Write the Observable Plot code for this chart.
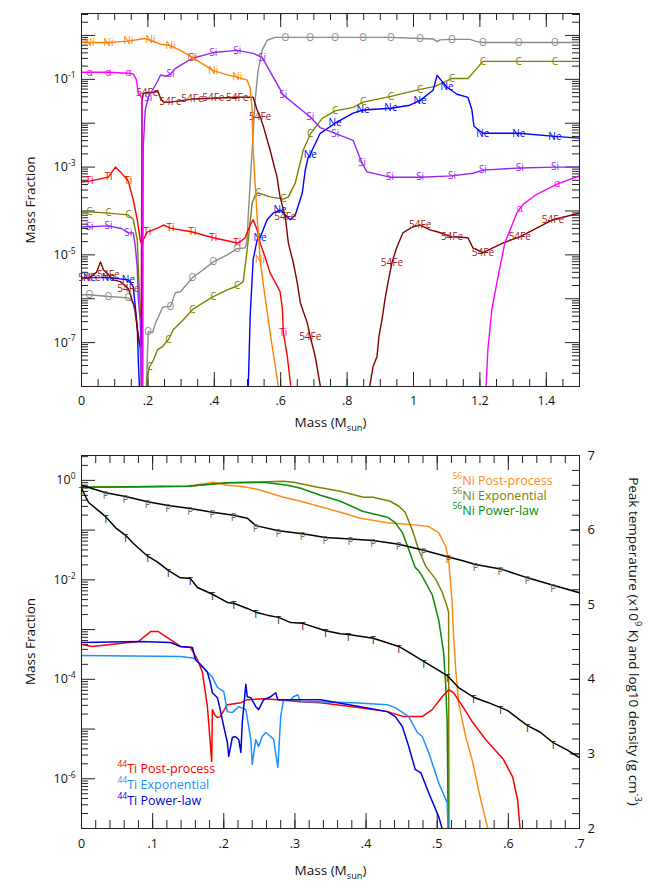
<!DOCTYPE html>
<html><head><meta charset="utf-8">
<script src="https://cdn.jsdelivr.net/npm/d3@7"></script>
<script src="https://cdn.jsdelivr.net/npm/@observablehq/plot@0.6"></script>
<style>
body{margin:0;background:#fff;}
#chart{width:664px;}
svg{display:block;}
</style></head><body><div id="chart"></div>
<script>
// ===== TOP PANEL: mass fraction profiles, [mass (Msun), log10 mass fraction, label?] =====
const niLog = [[0,-0.16],[0.024,-0.16,1],[0.081,-0.16,1],[0.141,-0.13,1],[0.19,-0.07],[0.208,-0.11,1],[0.238,-0.2],[0.268,-0.23,1],[0.298,-0.34],[0.334,-0.50,1],[0.367,-0.66],[0.397,-0.80,1],[0.439,-0.90],[0.469,-0.95,1],[0.499,-1.02],[0.508,-1.2],[0.514,-1.7],[0.517,-2.6],[0.529,-4.14],[0.538,-5.11,1],[0.547,-5.64],[0.568,-6.77],[0.595,-8.1]];
const alphaLeftLog = [[0,-0.84],[0.024,-0.84,1],[0.081,-0.84,1],[0.141,-0.86,1],[0.156,-0.88],[0.165,-1.0],[0.171,-1.32],[0.177,-1.36],[0.182,-1.45],[0.184,-8.1]];
const alphaRightLog = [[1.218,-8.1],[1.224,-7.16],[1.236,-6.25],[1.251,-5.64],[1.275,-4.73],[1.311,-4.05],[1.320,-3.95,1],[1.33,-3.85],[1.371,-3.62],[1.432,-3.39,1],[1.5,-3.2]];
const siLog = [[0,-4.36],[0.024,-4.36,1],[0.081,-4.34,1],[0.12,-4.40],[0.141,-4.50,1],[0.156,-4.50],[0.162,-4.8],[0.168,-5.3],[0.171,-6.0],[0.177,-6.5],[0.181,-8.1],[0.184,-8.1],[0.186,-2.55],[0.192,-1.70],[0.201,-1.41,1],[0.229,-1.05],[0.238,-0.90],[0.253,-0.93],[0.268,-0.88,1],[0.283,-0.75],[0.298,-0.68],[0.334,-0.52,1],[0.397,-0.39,1],[0.469,-0.34,1],[0.517,-0.41],[0.544,-0.50,1],[0.608,-1.36,1],[0.689,-1.86,1],[0.719,-2.10],[0.764,-2.23,1],[0.818,-2.39],[0.845,-2.91,1],[0.860,-3.11],[0.929,-3.23,1],[1.020,-3.23,1],[1.116,-3.20,1],[1.179,-3.14],[1.209,-3.07,1],[1.320,-3.02,1],[1.426,-3.00,1],[1.5,-3.00]];
const cLog = [[0,-4.02],[0.024,-4.02,1],[0.081,-4.05,1],[0.141,-4.09,1],[0.156,-4.20],[0.168,-4.66],[0.171,-5.27],[0.177,-6.25],[0.183,-8.1],[0.195,-8.1],[0.198,-7.77],[0.205,-7.55,1],[0.217,-7.39],[0.229,-7.16],[0.244,-7.09],[0.262,-6.93,1],[0.277,-6.70],[0.304,-6.50],[0.334,-6.25,1],[0.367,-6.09],[0.397,-5.95,1],[0.439,-5.80],[0.469,-5.71,1],[0.487,-5.61],[0.499,-4.89],[0.514,-3.82],[0.523,-3.64],[0.532,-3.59,1],[0.568,-3.68],[0.608,-3.73,1],[0.623,-3.68],[0.644,-3.36],[0.668,-2.61],[0.689,-2.25,1],[0.725,-1.89],[0.764,-1.72,1],[0.818,-1.64],[0.848,-1.52,1],[0.932,-1.39,1],[1.020,-1.23,1],[1.065,-1.16],[1.116,-0.98,1],[1.164,-0.98],[1.191,-0.75],[1.209,-0.59,1],[1.317,-0.59,1],[1.426,-0.59,1],[1.5,-0.59]];
const oLog = [[0,-5.91],[0.024,-5.91,1],[0.081,-5.95,1],[0.141,-5.98,1],[0.156,-6.09],[0.168,-6.64],[0.177,-7.23],[0.180,-8.1],[0.195,-8.1],[0.198,-7.39],[0.201,-6.75,1],[0.214,-6.77],[0.223,-6.55],[0.232,-6.41],[0.244,-6.20],[0.253,-6.18],[0.268,-6.18,1],[0.283,-5.86],[0.298,-5.84],[0.334,-5.52,1],[0.367,-5.34],[0.397,-5.16,1],[0.439,-5.00],[0.469,-4.86,1],[0.493,-4.84],[0.499,-4.66],[0.502,-4.14],[0.508,-3.36],[0.514,-2.61],[0.523,-1.48],[0.532,-0.80],[0.544,-0.34],[0.559,-0.11],[0.583,-0.045],[0.614,-0.045,1],[0.689,-0.045,1],[0.764,-0.045,1],[0.848,-0.045,1],[0.932,-0.045,1],[1.020,-0.07,1],[1.059,-0.08],[1.071,-0.14],[1.080,-0.10],[1.116,-0.09,1],[1.170,-0.09],[1.191,-0.14],[1.209,-0.16,1],[1.317,-0.16,1],[1.426,-0.16,1],[1.5,-0.16]];
const neLeftLog = [[0,-5.52],[0.024,-5.52,1],[0.081,-5.52,1],[0.141,-5.57,1],[0.156,-5.73],[0.168,-6.64],[0.171,-7.39],[0.175,-8.1]];
const neRightLog = [[0.502,-8.1],[0.508,-6.41],[0.517,-5.11],[0.529,-4.66],[0.538,-4.61,1],[0.559,-4.20],[0.577,-4.05],[0.598,-3.98,1],[0.620,-4.14],[0.629,-4.20],[0.644,-4.09],[0.665,-3.59],[0.674,-3.07],[0.683,-2.77],[0.689,-2.73,1],[0.695,-2.61],[0.719,-2.23],[0.764,-2.0,1],[0.818,-1.77],[0.848,-1.70,1],[0.932,-1.66,1],[0.989,-1.59],[1.020,-1.48,1],[1.059,-1.25],[1.071,-0.91],[1.101,-1.18,1],[1.131,-1.34],[1.164,-1.41],[1.176,-1.70],[1.182,-2.07],[1.209,-2.23,1],[1.317,-2.23,1],[1.426,-2.30,1],[1.5,-2.34]];
const tiLog = [[0,-3.34],[0.024,-3.32,1],[0.081,-3.23,1],[0.102,-3.00],[0.117,-3.11],[0.141,-3.32,1],[0.156,-3.75],[0.168,-4.20],[0.177,-4.66],[0.183,-4.80],[0.186,-4.66],[0.198,-4.48,1],[0.229,-4.39],[0.247,-4.32],[0.268,-4.39,1],[0.334,-4.48,1],[0.397,-4.61,1],[0.469,-4.73,1],[0.478,-4.70],[0.493,-4.61],[0.508,-4.32],[0.517,-4.20],[0.529,-4.43],[0.538,-4.73],[0.553,-5.05],[0.568,-5.41],[0.589,-5.70],[0.598,-5.84],[0.605,-6.22],[0.608,-6.77,1],[0.620,-7.32],[0.632,-8.1]];
const fe54Log = [[0,-5.52],[0.024,-5.52,1],[0.045,-5.40],[0.057,-5.16],[0.066,-5.34],[0.081,-5.45,1],[0.096,-5.57],[0.117,-5.61],[0.141,-5.77,1],[0.162,-6.25],[0.168,-6.70],[0.177,-7.09],[0.180,-7.09],[0.182,-1.50],[0.186,-1.32],[0.198,-1.30,1],[0.217,-1.30],[0.229,-1.25],[0.238,-1.43],[0.247,-1.52],[0.268,-1.52,1],[0.334,-1.45,1],[0.397,-1.43,1],[0.469,-1.41,1],[0.517,-1.41],[0.529,-1.70],[0.538,-1.85,1],[0.547,-2.05],[0.568,-2.61],[0.589,-3.23],[0.598,-3.68],[0.614,-4.14,1],[0.623,-4.73],[0.638,-5.18],[0.650,-5.64],[0.659,-6.09],[0.680,-6.55],[0.689,-6.86,1],[0.704,-7.32],[0.722,-8.1]];
const fe54RightLog = [[0.866,-8.1],[0.878,-7.55],[0.890,-7.32],[0.896,-6.86],[0.905,-6.48],[0.914,-6.02],[0.923,-5.64],[0.935,-5.18,1],[0.950,-4.82],[0.968,-4.50],[0.998,-4.36],[1.020,-4.32,1],[1.050,-4.43],[1.074,-4.48],[1.116,-4.59,1],[1.164,-4.61],[1.179,-4.84],[1.209,-4.95,1],[1.269,-4.73],[1.320,-4.59,1],[1.371,-4.39],[1.420,-4.20,1],[1.5,-4.05]];

// ===== BOTTOM PANEL =====
const ni56PostLog = [[0,-0.14],[0.149,-0.12],[0.186,-0.04],[0.205,-0.10],[0.224,-0.12],[0.247,-0.18],[0.284,-0.34],[0.308,-0.42],[0.336,-0.53],[0.364,-0.64],[0.392,-0.76],[0.430,-0.85],[0.465,-0.89],[0.488,-0.93],[0.502,-1.05],[0.512,-1.33],[0.516,-1.59],[0.521,-2.45],[0.523,-3.14],[0.526,-3.80],[0.530,-4.47],[0.540,-5.15],[0.550,-5.67],[0.558,-6.22],[0.568,-6.82],[0.573,-7.1]];
const ni56ExpLog = [[0,-0.14],[0.149,-0.12],[0.205,-0.05],[0.26,-0.03],[0.284,-0.02],[0.298,-0.04],[0.332,-0.14],[0.364,-0.22],[0.396,-0.34],[0.410,-0.34],[0.434,-0.42],[0.446,-0.52],[0.455,-0.64],[0.465,-1.0],[0.474,-1.40],[0.484,-1.73],[0.498,-1.99],[0.507,-2.25],[0.514,-2.54],[0.516,-2.66],[0.5165,-7.1]];
const ni56PowLog = [[0,-0.14],[0.149,-0.12],[0.205,-0.05],[0.256,-0.04],[0.290,-0.10],[0.308,-0.16],[0.336,-0.30],[0.364,-0.42],[0.395,-0.62],[0.430,-0.74],[0.441,-0.85],[0.451,-1.05],[0.460,-1.39],[0.469,-1.75],[0.474,-1.82],[0.479,-1.93],[0.493,-2.30],[0.502,-2.80],[0.509,-3.46],[0.512,-4.14],[0.514,-4.87],[0.5155,-7.1]];
const ti44PostLog = [[0,-3.30],[0.015,-3.34],[0.080,-3.24],[0.097,-3.04],[0.108,-3.04],[0.125,-3.20],[0.139,-3.34],[0.153,-3.36],[0.163,-3.60],[0.170,-3.86],[0.177,-4.55],[0.183,-5.65],[0.184,-4.61],[0.187,-4.71],[0.191,-4.77],[0.195,-4.75],[0.205,-4.51],[0.224,-4.47],[0.233,-4.41],[0.256,-4.39],[0.276,-4.41],[0.308,-4.45],[0.336,-4.47],[0.392,-4.57],[0.430,-4.65],[0.453,-4.75],[0.479,-4.75],[0.493,-4.61],[0.507,-4.35],[0.516,-4.21],[0.523,-4.27],[0.536,-4.55],[0.550,-4.87],[0.568,-5.21],[0.593,-5.61],[0.606,-5.96],[0.613,-6.42],[0.617,-7.1]];
const ti44ExpLog = [[0,-3.52],[0.140,-3.54],[0.160,-3.58],[0.171,-3.76],[0.184,-3.96],[0.191,-4.16],[0.200,-4.25],[0.205,-4.65],[0.212,-4.67],[0.221,-4.55],[0.231,-4.61],[0.238,-5.21],[0.240,-5.71],[0.245,-5.21],[0.249,-5.35],[0.254,-5.15],[0.259,-5.07],[0.266,-5.15],[0.270,-5.21],[0.276,-5.77],[0.280,-4.75],[0.284,-4.41],[0.294,-4.41],[0.298,-4.35],[0.304,-4.31],[0.308,-4.45],[0.332,-4.45],[0.382,-4.47],[0.430,-4.51],[0.441,-4.57],[0.460,-4.75],[0.472,-5.07],[0.479,-5.15],[0.488,-5.47],[0.502,-6.08],[0.514,-6.48],[0.5155,-7.1]];
const ti44PowLog = [[0,-3.26],[0.083,-3.24],[0.125,-3.26],[0.139,-3.34],[0.156,-3.36],[0.160,-3.60],[0.171,-3.76],[0.177,-3.86],[0.181,-4.06],[0.184,-4.27],[0.191,-4.37],[0.195,-4.61],[0.200,-4.95],[0.205,-5.27],[0.207,-5.55],[0.212,-5.17],[0.216,-5.15],[0.221,-5.21],[0.224,-5.47],[0.226,-4.87],[0.231,-4.10],[0.233,-4.35],[0.238,-4.37],[0.245,-4.55],[0.249,-4.61],[0.256,-4.41],[0.266,-4.35],[0.273,-4.27],[0.276,-4.41],[0.290,-4.41],[0.336,-4.41],[0.392,-4.55],[0.430,-4.65],[0.441,-4.75],[0.451,-4.95],[0.460,-5.35],[0.469,-5.81],[0.477,-5.88],[0.488,-6.28],[0.502,-6.76],[0.509,-7.1]];
// right axis: log10 density (P) and peak temperature (T), [mass, value, label?]
const densityP = [[0,6.60],[0.034,6.50,1],[0.062,6.45,1],[0.093,6.38,1],[0.122,6.33,1],[0.153,6.29,1],[0.184,6.24,1],[0.214,6.20,1],[0.233,6.16],[0.245,6.06,1],[0.277,5.99,1],[0.311,5.95,1],[0.343,5.90,1],[0.378,5.88,1],[0.410,5.86,1],[0.446,5.81,1],[0.481,5.73,1],[0.516,5.64,1],[0.536,5.59],[0.554,5.54,1],[0.589,5.48,1],[0.627,5.36,1],[0.663,5.26,1],[0.700,5.16]];
const temperatureT = [[0,6.56,1],[0.010,6.37],[0.034,6.18,1],[0.048,6.03],[0.062,5.93,1],[0.073,5.82],[0.093,5.65,1],[0.107,5.57],[0.122,5.46,1],[0.139,5.36],[0.153,5.35,1],[0.163,5.23],[0.184,5.14,1],[0.205,5.03],[0.214,5.02,1],[0.233,4.95],[0.245,4.90,1],[0.261,4.86],[0.277,4.83,1],[0.294,4.76],[0.311,4.75,1],[0.343,4.65,1],[0.364,4.61],[0.375,4.60,1],[0.410,4.55,1],[0.446,4.44,1],[0.462,4.35],[0.481,4.24,1],[0.495,4.16],[0.514,4.05,1],[0.530,3.89],[0.551,3.76,1],[0.571,3.69],[0.589,3.62,1],[0.599,3.58],[0.617,3.45],[0.627,3.38,1],[0.645,3.29],[0.663,3.15,1],[0.683,3.05],[0.700,2.95]];

// ===== tick labels & legend text =====
const topXTicks = [0, 0.2, 0.4, 0.6, 0.8, 1, 1.2, 1.4];
const topYTicks = [1e-1, 1e-3, 1e-5, 1e-7];
const botXTicks = [0, 0.1, 0.2, 0.3, 0.4, 0.5, 0.6, 0.7];
const botYTicks = [1, 1e-2, 1e-4, 1e-6];
const rightTicks = [2, 3, 4, 5, 6, 7];
const niLegend = ["^{56}Ni Post-process", "^{56}Ni Exponential", "^{56}Ni Power-law"];
const niLegendColors = ["#ff8c1a", "#808000", "#0a8a0a"];
const tiLegend = ["^{44}Ti Post-process", "^{44}Ti Exponential", "^{44}Ti Power-law"];
const tiLegendColors = ["#ff0000", "#1e8fff", "#0000dd"];

const FONT = "'Open Sans', 'DejaVu Sans', sans-serif";
const FW = 498, FH = 373;
const toObj = arr => arr.map(([x, e, l]) => ({x, y: 10 ** e, l: !!l}));
const rightToLeft = v => 10 ** (-7 + (v - 2) * 1.5);   // dual axis: 2..7 -> 1e-7..10^0.5
const toObjR = arr => arr.map(([x, v, l]) => ({x, y: rightToLeft(v), l: !!l}));
const fmtX = d => d === 0 ? "0" : String(+d.toFixed(2)).replace(/^0\./, ".");
const fmtPow = d => `10^{${Math.round(Math.log10(d))}}`;

function curve(data, color, label, sw = 1.4, ldy = 0, lcolor) {
  const m = [Plot.line(data, {x: "x", y: "y", stroke: color, strokeWidth: sw, clip: true})];
  if (label) m.push(Plot.text(data.filter(d => d.l), {x: "x", y: "y", text: () => label, fill: lcolor || color, fontSize: 10, dy: ldy}));
  return m;
}
function logTicks(lo, hi) {
  const major = [], minor = [];
  for (let e = lo; e <= Math.floor(hi); e++) for (let k = 1; k <= 9; k++) {
    const v = k * 10 ** e; if (v <= 10 ** hi * 1.0001) (k === 1 ? major : minor).push(v);
  }
  return {major, minor};
}
const range = (a, b, s) => d3.range(Math.round((b - a) / s) + 1).map(i => +(a + i * s).toFixed(4));
function xTickRules(minor, major, lmin, lmaj) {
  return [
    Plot.ruleX(minor, {x: d => d, insetTop: FH - lmin, stroke: "#222"}),
    Plot.ruleX(major, {x: d => d, insetTop: FH - lmaj, stroke: "#222"}),
    Plot.ruleX(minor, {x: d => d, insetBottom: FH - lmin, stroke: "#222"}),
    Plot.ruleX(major, {x: d => d, insetBottom: FH - lmaj, stroke: "#222"})
  ];
}
function yTickRules(vals, len, side) {
  return Plot.ruleY(vals, {y: d => d, stroke: "#222", ...(side === "left" ? {insetRight: FW - len} : {insetLeft: FW - len})});
}
function legend(names, colors, anchor, dx, dy0, step) {
  return names.map((n, i) => Plot.text([n], {frameAnchor: anchor, text: d => d, dx, dy: dy0 + i * step,
    textAnchor: "start", lineAnchor: "middle", fontSize: 12.5, fill: colors[i]}));
}
const title = (s, o) => Plot.text([s], {text: d => d, frameAnchor: "middle", textAnchor: "middle", lineAnchor: "middle", fontSize: 13.5, ...o});

// ---------- TOP ----------
const tl = logTicks(-8, 0.5);
const topPlot = Plot.plot({
  width: 664, height: 445, marginLeft: 81, marginRight: 85, marginTop: 13, marginBottom: 59,
  x: {domain: [0, 1.5]},
  y: {type: "log", domain: [1e-8, 10 ** 0.5]},
  style: {fontFamily: FONT, fontSize: "12px", background: "#fff", color: "#111"},
  marks: [
    ...xTickRules(range(0, 1.5, 0.05), range(0, 1.4, 0.2), 7, 14),
    yTickRules(tl.minor, 7, "left"), yTickRules(tl.major, 14, "left"),
    yTickRules(tl.minor, 7, "right"), yTickRules(tl.major, 14, "right"),
    ...curve(toObj(oLog), "#8c8c8c", "O"),
    ...curve(toObj(cLog), "#808000", "C"),
    ...curve(toObj(neLeftLog), "#0000ff", "Ne"),
    ...curve(toObj(neRightLog), "#0000ff", "Ne"),
    ...curve(toObj(fe54Log), "#800000", "54Fe", 1.4, 0, "#9a2020"),
    ...curve(toObj(fe54RightLog), "#800000", "54Fe", 1.4, 0, "#9a2020"),
    ...curve(toObj(tiLog), "#ff0000", "Ti"),
    ...curve(toObj(siLog), "#9326f5", "Si"),
    ...curve(toObj(alphaLeftLog), "#ff00ff", "α"),
    ...curve(toObj(alphaRightLog), "#ff00ff", "α"),
    ...curve(toObj(niLog), "#ff8000", "Ni"),
    Plot.frame({stroke: "#222"}),
    Plot.axisX(topXTicks, {tickSize: 0, tickPadding: 10, tickFormat: fmtX, fontSize: 12.5, label: null}),
    Plot.axisY(topYTicks, {tickSize: 0, tickPadding: 6, tickFormat: fmtPow, fontSize: 12.5, label: null}),
    title("Mass Fraction", {rotate: -90, dx: -300}),
    title("Mass (M_{sun})", {dy: 222.5})
  ]
});

// ---------- BOTTOM ----------
const bl = logTicks(-7, 0.5);
const botPlot = Plot.plot({
  width: 664, height: 446, marginLeft: 81, marginRight: 85, marginTop: 10, marginBottom: 63,
  x: {domain: [0, 0.7]},
  y: {type: "log", domain: [1e-7, 10 ** 0.5]},
  style: {fontFamily: FONT, fontSize: "12px", background: "#fff", color: "#111"},
  marks: [
    ...xTickRules(range(0, 0.7, 0.02), range(0, 0.7, 0.1), 8, 15),
    yTickRules(bl.minor, 7, "left"), yTickRules(bl.major, 14, "left"),
    yTickRules(range(2, 7, 0.2).map(rightToLeft), 7, "right"),
    yTickRules(rightTicks.map(rightToLeft), 9, "right"),
    ...curve(toObj(ni56PostLog), "#ff8c1a", null, 1.5),
    ...curve(toObj(ni56ExpLog), "#808000", null, 1.5),
    ...curve(toObj(ni56PowLog), "#0a8a0a", null, 1.5),
    ...curve(toObj(ti44PostLog), "#ff0000", null, 1.5),
    ...curve(toObj(ti44ExpLog), "#1e8fff", null, 1.5),
    ...curve(toObj(ti44PowLog), "#0000dd", null, 1.5),
    ...curve(toObjR(densityP), "#000", "P", 1.5, 3, "#666"),
    ...curve(toObjR(temperatureT), "#000", "T", 1.5, 3, "#222"),
    Plot.frame({stroke: "#222"}),
    Plot.axisX(botXTicks, {tickSize: 0, tickPadding: 11, tickFormat: fmtX, fontSize: 12.5, label: null}),
    Plot.axisY(botYTicks, {tickSize: 0, tickPadding: 6, tickFormat: fmtPow, fontSize: 12.5, label: null}),
    Plot.text(rightTicks, {y: d => rightToLeft(d), text: d => String(d), frameAnchor: "right", dx: 8, textAnchor: "start", lineAnchor: "middle", fontSize: 13}),
    ...legend(niLegend, niLegendColors, "top-left", 371, 25, 15),
    ...legend(tiLegend, tiLegendColors, "bottom-left", 36, -60, 16),
    title("Mass Fraction", {rotate: -90, dx: -300}),
    title("Mass (M_{sun})", {dy: 228.5}),
    title("Peak temperature (x10^{9} K) and log10 density (g cm^{-3})", {rotate: 90, dx: 305})
  ]
});

const root = document.getElementById("chart");
root.appendChild(topPlot);
root.appendChild(botPlot);

// rich text: ^{...} superscript, _{...} subscript
function richText(svg) {
  svg.querySelectorAll("text").forEach(t => {
    const s = t.textContent;
    if (t.children.length || !/[\^_]\{/.test(s)) return;
    const fs = parseFloat(getComputedStyle(t).fontSize) || 12;
    while (t.firstChild) t.removeChild(t.firstChild);
    const re = /([\^_])\{([^}]*)\}/g;
    let last = 0, m, shift = 0;
    const add = (txt, dy, small) => {
      const ts = document.createElementNS("http://www.w3.org/2000/svg", "tspan");
      ts.textContent = txt;
      if (dy) ts.setAttribute("dy", dy);
      if (small) ts.setAttribute("font-size", (fs * 0.68).toFixed(1));
      t.appendChild(ts);
    };
    while ((m = re.exec(s))) {
      if (m.index > last) { add(s.slice(last, m.index), -shift, false); shift = 0; }
      const d = m[1] === "^" ? -0.42 * fs : 0.28 * fs;
      add(m[2], d - shift, true); shift = d;
      last = re.lastIndex;
    }
    if (last < s.length) add(s.slice(last), -shift, false);
  });
}
// place rotated titles so their on-screen centre is at the wanted point (SVG pixels)
function placeTitle(svg, match, cx, cy) {
  const sr = svg.getBoundingClientRect();
  svg.querySelectorAll("text").forEach(t => {
    if (!t.textContent.includes(match)) return;
    const r = t.getBoundingClientRect();
    const ddx = cx - (r.left - sr.left + r.width / 2);
    const ddy = cy - (r.top - sr.top + r.height / 2);
    t.setAttribute("transform", `translate(${ddx.toFixed(2)},${ddy.toFixed(2)}) ` + (t.getAttribute("transform") || ""));
  });
}
richText(topPlot);
richText(botPlot);
placeTitle(topPlot, "Fraction", 30, 200);
placeTitle(botPlot, "Fraction", 30, 196.5);
placeTitle(botPlot, "Peak temperature", 635, 196.5);
</script>
</body></html>
